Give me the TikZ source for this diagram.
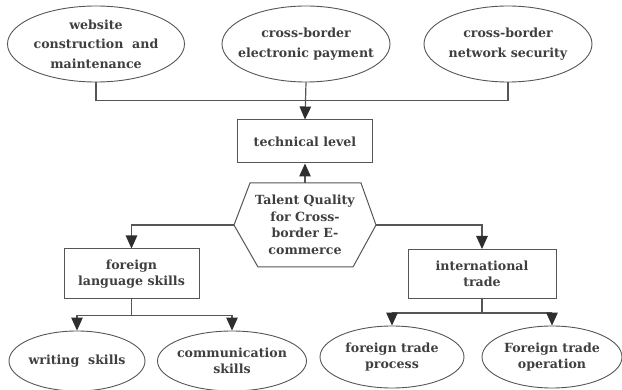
\documentclass[tikz,border=0pt]{standalone}
\usepackage{fontspec}
\setmainfont{DejaVu Serif}
\usetikzlibrary{arrows.meta,shapes.geometric}
\definecolor{ln}{HTML}{555555}
\definecolor{tx}{HTML}{3F3F3F}
\definecolor{ah}{HTML}{2E2E2E}
\tikzset{
  ell/.style={draw=ln, line width=0.9pt, ellipse, inner sep=0pt},
  txt/.style={text=tx, align=center, font=\bfseries\fontsize{12.6}{16.5}\selectfont, inner sep=0pt},
  txtw/.style={txt, font=\bfseries\fontsize{12.6}{19.5}\selectfont},
  boxn/.style={draw=ln, line width=1pt, rectangle, inner sep=0pt, text=tx, align=center, font=\bfseries\fontsize{12.6}{16.5}\selectfont},
  conn/.style={draw=ln, line width=1.2pt},
  arr/.style={conn, -{Triangle[length=13pt,width=11.5pt,color=ah]}}
}
\begin{document}
\begin{tikzpicture}[x=1pt,y=-1pt]
\useasboundingbox (0,0) rectangle (622,390);
% top ellipses
\node[ell, minimum width=177pt, minimum height=76pt] (e1) at (96,44) {};
\node[txtw] at (e1.center) {website\\construction\ \ and\\maintenance};
\node[ell, minimum width=168pt, minimum height=76pt] (e2) at (306,44) {};
\node[txtw] at (e2.center) {cross-border\\electronic payment};
\node[ell, minimum width=168pt, minimum height=76pt] (e3) at (508,44) {};
\node[txtw] at (e3.center) {cross-border\\network security};
% technical level
\node[boxn, minimum width=135pt, minimum height=43pt] (tech) at (305,141.5) {technical level};
% hexagon
\coordinate (hL) at (234,225);
\coordinate (hTL) at (250,183);
\coordinate (hTR) at (361,183);
\coordinate (hR) at (376,225);
\coordinate (hBR) at (353,267);
\coordinate (hBL) at (258,267);
\coordinate (hT) at (305,183);
\draw[ln, line width=1pt] (hL) -- (hTL) -- (hTR) -- (hR) -- (hBR) -- (hBL) -- cycle;
\node[txt] (hex) at (305,225) {Talent Quality\\for Cross-\\border E-\\commerce};
% second level boxes
\node[boxn, minimum width=135pt, minimum height=50pt] (fl) at (131.5,274) {foreign\\language skills};
\node[boxn, minimum width=148pt, minimum height=49pt] (it) at (482,274) {international\\trade};
% bottom ellipses
\node[ell, minimum width=136pt, minimum height=60pt] (w) at (77,361) {};
\node[txt] at (w.center) {writing\ \ skills};
\node[ell, minimum width=149pt, minimum height=60pt] (c) at (232,361) {};
\node[txt] at (c.center) {communication\\skills};
\node[ell, minimum width=144pt, minimum height=62pt] (fp) at (392,357) {};
\node[txt] at (fp.center) {foreign trade\\process};
\node[ell, minimum width=140pt, minimum height=62pt] (fo) at (552,357) {};
\node[txt] at (fo.center) {Foreign trade\\operation};
% connectors top
\draw[conn] (e1.south) -- ++(0,18) coordinate (j1) -| (e3.south);
\draw[arr] (e2.south) -- (tech.north);
\draw[arr] (hT) -- (tech.south);
% hexagon to second level
\draw[arr] (hL) -| (fl.north);
\draw[arr] (hR) -| (it.north);
% second level to bottom
\draw[conn] (fl.south) -- ++(0,16) coordinate (j2);
\draw[arr] (j2) -| (w.north);
\draw[arr] (j2) -| (c.north);
\draw[conn] (it.south) -- ++(0,14) coordinate (j3);
\draw[arr] (j3) -| (fp.north);
\draw[arr] (j3) -| (fo.north);
\end{tikzpicture}
\end{document}
